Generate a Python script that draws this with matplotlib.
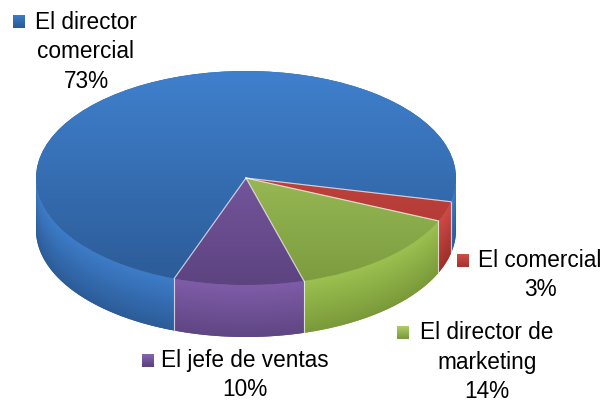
import numpy as np
import matplotlib
matplotlib.use('Agg')
import matplotlib.pyplot as plt
from matplotlib.patches import Polygon
from matplotlib.colors import to_rgb


etiquetas = ['El director\ncomercial', 'El comercial', 'El director de\nmarketing', 'El jefe de ventas']
valores = [73, 3, 14, 10]

# colores de la cara superior (arriba, abajo) y del lateral (arriba, abajo)
cara = [('#3f80cd', '#2c5b97'), ('#d2504c', '#a8332f'), ('#b2d46a', '#7b9b3e'), ('#8a68b6', '#5d4380')]
lateral = [('#3d7cc8', '#2c5c98'), ('#d04a46', '#9e302c'), ('#9cc050', '#7a9a3a'), ('#7f5ca8', '#5f4684')]

# posicion de cada etiqueta en pixeles: centro del texto, linea base, cuadro
pos_texto = [(86, 29), (540, 267), (487, 339), (245, 367)]
pos_cuadro = [(13, 21), (457, 260), (397, 332), (142, 360)]

W, H = 607, 403
cx, cy, a, b = 246, 178, 210, 107   # elipse de la tarta en pixeles
prof = 52 / b                        # grosor del lateral


def gradiente(ax, patch, c1, c2, extent, z):
    c1 = np.array(to_rgb(c1))
    c2 = np.array(to_rgb(c2))
    t = np.linspace(0, 1, 256).reshape(-1, 1, 1)
    img = c2 * (1 - t) + c1 * t
    im = ax.imshow(img, extent=extent, origin='lower', aspect='auto', zorder=z, interpolation='bilinear')
    im.set_clip_path(patch)


def trozos_frente(t1, t2):
    for off in (-360, 0, 360):
        lo = max(t1 + off, 180)
        hi = min(t2 + off, 360)
        if hi > lo:
            yield lo, hi


fig = plt.figure(figsize=(W / 100, H / 100), dpi=100)
ax = fig.add_axes([0, 0, 1, 1])

wedges, _ = ax.pie(valores, startangle=250, counterclock=False, radius=1,
                   wedgeprops=dict(linewidth=0))

# lateral de la tarta
xs = np.linspace(-1, 1, 500)
ys = np.linspace(-1 - prof, 0, 300)
XX, YY = np.meshgrid(xs, ys)
frac = np.clip((-np.sqrt(np.clip(1 - XX ** 2, 0, 1)) - YY) / prof, 0, 1)[..., None]

for i, w in enumerate(wedges):
    w.set_facecolor(cara[i][1])
    gradiente(ax, w, cara[i][0], cara[i][1], (-1, 1, -1, 1), 3)
    for lo, hi in trozos_frente(w.theta1, w.theta2):
        t = np.radians(np.linspace(lo, hi, 200))
        arriba = np.column_stack([np.cos(t), np.sin(t)])
        abajo = np.column_stack([np.cos(t), np.sin(t) - prof])[::-1]
        poly = Polygon(np.vstack([arriba, abajo]), closed=True, fc=lateral[i][1], lw=0, zorder=1)
        ax.add_patch(poly)
        c1 = np.array(to_rgb(lateral[i][0]))
        c2 = np.array(to_rgb(lateral[i][1]))
        img = c1 * (1 - frac) + c2 * frac
        im = ax.imshow(img, extent=(-1, 1, -1 - prof, 0), origin='lower', aspect='auto',
                       zorder=2, interpolation='bilinear')
        im.set_clip_path(poly)

# lineas claras entre porciones
for w in wedges:
    for ang in (w.theta1, w.theta2):
        r = np.radians(ang)
        x, y = np.cos(r), np.sin(r)
        ax.plot([0, x], [0, y], color=(1, 1, 1, 0.45), lw=0.8, zorder=4)
        if np.sin(r) < 0:
            ax.plot([x, x], [y, y - prof], color=(1, 1, 1, 0.45), lw=0.8, zorder=4)

ax.set_xlim(-cx / a, (W - cx) / a)
ax.set_ylim((cy - H) / b, cy / b)
ax.set_aspect('auto')
ax.axis('off')

# etiquetas
ax2 = fig.add_axes([0, 0, 1, 1])
ax2.axis('off')
ax2.patch.set_alpha(0)

total = sum(valores)
for i, et in enumerate(etiquetas):
    lineas = et.split('\n') + [f'{valores[i] / total * 100:.0f}%']
    x, y = pos_texto[i]
    for k, ln in enumerate(lineas):
        ax2.text(x, y + k * 29.5, ln, ha='center', va='baseline', fontsize=16.3,
                 family=['Liberation Sans', 'DejaVu Sans'], color='black')
    qx, qy = pos_cuadro[i]
    sq = Polygon([(qx, qy - 6.5), (qx + 12, qy - 6.5), (qx + 12, qy + 6.5), (qx, qy + 6.5)],
                 closed=True, fc=cara[i][1], lw=0)
    ax2.add_patch(sq)
    gradiente(ax2, sq, cara[i][1], cara[i][0], (qx, qx + 12, qy - 6.5, qy + 6.5), 3)

ax2.set_xlim(0, W)
ax2.set_ylim(H, 0)

fig.savefig('out.png', dpi=100)
